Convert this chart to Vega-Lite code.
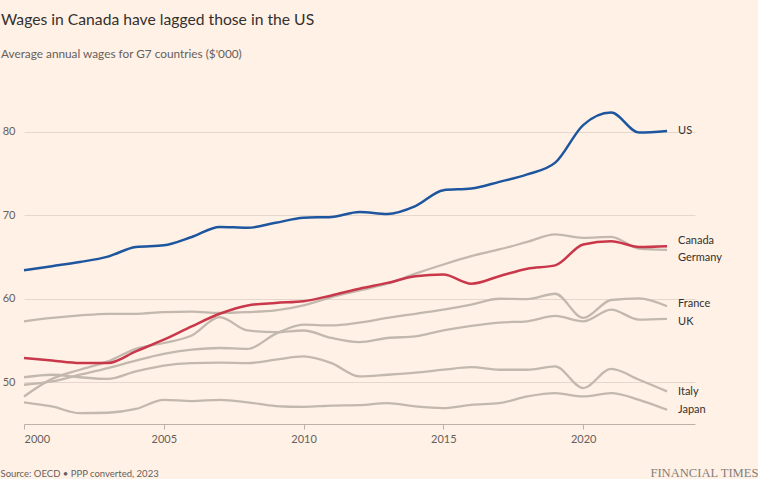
{
  "$schema": "https://vega.github.io/schema/vega-lite/v6.json",
  "width": 671,
  "height": 334,
  "autosize": {"type": "none"},
  "padding": {"left": 24, "top": 90, "right": 63, "bottom": 55},
  "background": "#fff1e5",
  "config": {"view": {"stroke": null}, "font": "Lato"},
  "title": {
    "text": "Wages in Canada have lagged those in the US",
    "subtitle": "Average annual wages for G7 countries ($'000)",
    "anchor": "start",
    "frame": "group",
    "dx": -23,
    "offset": 28,
    "font": "Lato",
    "fontSize": 15.7,
    "fontWeight": "normal",
    "color": "#33302e",
    "subtitleFont": "Lato",
    "subtitleFontSize": 11.8,
    "subtitleColor": "#66605c",
    "subtitlePadding": 21
  },
  "data": {"values": [
    {"country":"US","year":2000,"wage":63.4},{"country":"US","year":2001,"wage":63.9},{"country":"US","year":2002,"wage":64.4},{"country":"US","year":2003,"wage":65.05},{"country":"US","year":2004,"wage":66.2},{"country":"US","year":2005,"wage":66.4},{"country":"US","year":2006,"wage":67.4},{"country":"US","year":2007,"wage":68.6},{"country":"US","year":2008,"wage":68.5},{"country":"US","year":2009,"wage":69.1},{"country":"US","year":2010,"wage":69.7},{"country":"US","year":2011,"wage":69.8},{"country":"US","year":2012,"wage":70.4},{"country":"US","year":2013,"wage":70.15},{"country":"US","year":2014,"wage":71.1},{"country":"US","year":2015,"wage":73.0},{"country":"US","year":2016,"wage":73.2},{"country":"US","year":2017,"wage":74.0},{"country":"US","year":2018,"wage":74.9},{"country":"US","year":2019,"wage":76.3},{"country":"US","year":2020,"wage":80.8},{"country":"US","year":2021,"wage":82.3},{"country":"US","year":2022,"wage":79.9},{"country":"US","year":2023,"wage":80.1},
    {"country":"Canada","year":2000,"wage":52.9},{"country":"Canada","year":2001,"wage":52.6},{"country":"Canada","year":2002,"wage":52.3},{"country":"Canada","year":2003,"wage":52.3},{"country":"Canada","year":2004,"wage":53.7},{"country":"Canada","year":2005,"wage":55.1},{"country":"Canada","year":2006,"wage":56.7},{"country":"Canada","year":2007,"wage":58.2},{"country":"Canada","year":2008,"wage":59.2},{"country":"Canada","year":2009,"wage":59.5},{"country":"Canada","year":2010,"wage":59.7},{"country":"Canada","year":2011,"wage":60.4},{"country":"Canada","year":2012,"wage":61.2},{"country":"Canada","year":2013,"wage":61.9},{"country":"Canada","year":2014,"wage":62.7},{"country":"Canada","year":2015,"wage":62.9},{"country":"Canada","year":2016,"wage":61.8},{"country":"Canada","year":2017,"wage":62.7},{"country":"Canada","year":2018,"wage":63.6},{"country":"Canada","year":2019,"wage":64.0},{"country":"Canada","year":2020,"wage":66.5},{"country":"Canada","year":2021,"wage":66.9},{"country":"Canada","year":2022,"wage":66.2},{"country":"Canada","year":2023,"wage":66.3},
    {"country":"Germany","year":2000,"wage":57.3},{"country":"Germany","year":2001,"wage":57.7},{"country":"Germany","year":2002,"wage":58.0},{"country":"Germany","year":2003,"wage":58.2},{"country":"Germany","year":2004,"wage":58.2},{"country":"Germany","year":2005,"wage":58.4},{"country":"Germany","year":2006,"wage":58.45},{"country":"Germany","year":2007,"wage":58.3},{"country":"Germany","year":2008,"wage":58.4},{"country":"Germany","year":2009,"wage":58.6},{"country":"Germany","year":2010,"wage":59.2},{"country":"Germany","year":2011,"wage":60.2},{"country":"Germany","year":2012,"wage":61.0},{"country":"Germany","year":2013,"wage":61.8},{"country":"Germany","year":2014,"wage":63.0},{"country":"Germany","year":2015,"wage":64.1},{"country":"Germany","year":2016,"wage":65.1},{"country":"Germany","year":2017,"wage":65.9},{"country":"Germany","year":2018,"wage":66.8},{"country":"Germany","year":2019,"wage":67.7},{"country":"Germany","year":2020,"wage":67.3},{"country":"Germany","year":2021,"wage":67.4},{"country":"Germany","year":2022,"wage":66.0},{"country":"Germany","year":2023,"wage":65.85},
    {"country":"France","year":2000,"wage":49.7},{"country":"France","year":2001,"wage":50.1},{"country":"France","year":2002,"wage":50.9},{"country":"France","year":2003,"wage":51.7},{"country":"France","year":2004,"wage":52.6},{"country":"France","year":2005,"wage":53.4},{"country":"France","year":2006,"wage":53.9},{"country":"France","year":2007,"wage":54.1},{"country":"France","year":2008,"wage":54.0},{"country":"France","year":2009,"wage":55.8},{"country":"France","year":2010,"wage":56.9},{"country":"France","year":2011,"wage":56.8},{"country":"France","year":2012,"wage":57.15},{"country":"France","year":2013,"wage":57.7},{"country":"France","year":2014,"wage":58.2},{"country":"France","year":2015,"wage":58.7},{"country":"France","year":2016,"wage":59.3},{"country":"France","year":2017,"wage":60.0},{"country":"France","year":2018,"wage":59.95},{"country":"France","year":2019,"wage":60.6},{"country":"France","year":2020,"wage":57.7},{"country":"France","year":2021,"wage":59.85},{"country":"France","year":2022,"wage":60.05},{"country":"France","year":2023,"wage":59.1},
    {"country":"UK","year":2000,"wage":48.3},{"country":"UK","year":2001,"wage":50.4},{"country":"UK","year":2002,"wage":51.5},{"country":"UK","year":2003,"wage":52.5},{"country":"UK","year":2004,"wage":54.0},{"country":"UK","year":2005,"wage":54.7},{"country":"UK","year":2006,"wage":55.6},{"country":"UK","year":2007,"wage":57.8},{"country":"UK","year":2008,"wage":56.2},{"country":"UK","year":2009,"wage":56.0},{"country":"UK","year":2010,"wage":56.2},{"country":"UK","year":2011,"wage":55.3},{"country":"UK","year":2012,"wage":54.8},{"country":"UK","year":2013,"wage":55.3},{"country":"UK","year":2014,"wage":55.5},{"country":"UK","year":2015,"wage":56.2},{"country":"UK","year":2016,"wage":56.75},{"country":"UK","year":2017,"wage":57.15},{"country":"UK","year":2018,"wage":57.3},{"country":"UK","year":2019,"wage":57.95},{"country":"UK","year":2020,"wage":57.3},{"country":"UK","year":2021,"wage":58.7},{"country":"UK","year":2022,"wage":57.5},{"country":"UK","year":2023,"wage":57.6},
    {"country":"Italy","year":2000,"wage":50.6},{"country":"Italy","year":2001,"wage":50.9},{"country":"Italy","year":2002,"wage":50.6},{"country":"Italy","year":2003,"wage":50.4},{"country":"Italy","year":2004,"wage":51.3},{"country":"Italy","year":2005,"wage":52.0},{"country":"Italy","year":2006,"wage":52.3},{"country":"Italy","year":2007,"wage":52.35},{"country":"Italy","year":2008,"wage":52.3},{"country":"Italy","year":2009,"wage":52.7},{"country":"Italy","year":2010,"wage":53.1},{"country":"Italy","year":2011,"wage":52.3},{"country":"Italy","year":2012,"wage":50.7},{"country":"Italy","year":2013,"wage":50.9},{"country":"Italy","year":2014,"wage":51.15},{"country":"Italy","year":2015,"wage":51.5},{"country":"Italy","year":2016,"wage":51.8},{"country":"Italy","year":2017,"wage":51.5},{"country":"Italy","year":2018,"wage":51.5},{"country":"Italy","year":2019,"wage":51.9},{"country":"Italy","year":2020,"wage":49.3},{"country":"Italy","year":2021,"wage":51.6},{"country":"Italy","year":2022,"wage":50.3},{"country":"Italy","year":2023,"wage":48.9},
    {"country":"Japan","year":2000,"wage":47.6},{"country":"Japan","year":2001,"wage":47.1},{"country":"Japan","year":2002,"wage":46.3},{"country":"Japan","year":2003,"wage":46.35},{"country":"Japan","year":2004,"wage":46.8},{"country":"Japan","year":2005,"wage":47.9},{"country":"Japan","year":2006,"wage":47.75},{"country":"Japan","year":2007,"wage":47.9},{"country":"Japan","year":2008,"wage":47.6},{"country":"Japan","year":2009,"wage":47.15},{"country":"Japan","year":2010,"wage":47.05},{"country":"Japan","year":2011,"wage":47.2},{"country":"Japan","year":2012,"wage":47.25},{"country":"Japan","year":2013,"wage":47.5},{"country":"Japan","year":2014,"wage":47.1},{"country":"Japan","year":2015,"wage":46.9},{"country":"Japan","year":2016,"wage":47.3},{"country":"Japan","year":2017,"wage":47.5},{"country":"Japan","year":2018,"wage":48.3},{"country":"Japan","year":2019,"wage":48.7},{"country":"Japan","year":2020,"wage":48.3},{"country":"Japan","year":2021,"wage":48.7},{"country":"Japan","year":2022,"wage":47.9},{"country":"Japan","year":2023,"wage":46.7}
  ]},
  "resolve": {"axis": {"y": "independent"}},
  "layer": [
    {
      "transform": [{"filter": {"field": "country", "oneOf": ["Japan", "Italy", "UK", "France", "Germany"]}}],
      "mark": {"type": "line", "interpolate": "monotone", "strokeWidth": 2.3, "color": "#c3b8ae"},
      "encoding": {
        "x": {"field": "year", "type": "quantitative", "scale": {"domain": [2000, 2024], "nice": false, "zero": false},
          "axis": {"values": [2000, 2005, 2010, 2015, 2020], "format": "d", "grid": false, "domain": true, "domainColor": "#bcb1a8", "ticks": true, "tickColor": "#bcb1a8", "tickSize": 5, "labelPadding": 4, "labelFont": "Lato", "labelFontSize": 11, "labelColor": "#66605c",
            "title": "Source: OECD • PPP converted, 2023", "titleFont": "Lato", "titleFontSize": 9.5, "titleFontWeight": "normal", "titleColor": "#66605c", "titleAnchor": "start", "titleAlign": "left", "titleBaseline": "alphabetic", "titleX": -24, "titleY": 52}},
        "y": {"field": "wage", "type": "quantitative", "scale": {"domain": [45, 85], "nice": false, "zero": false},
          "axis": {"values": [50, 60, 70, 80], "grid": true, "gridColor": "#e4d8cd", "domain": false, "ticks": false, "labelPadding": 9, "labelFont": "Lato", "labelFontSize": 11, "labelColor": "#66605c", "title": null}},
        "detail": {"field": "country"}
      }
    },
    {
      "transform": [{"filter": {"field": "country", "equal": "Canada"}}],
      "mark": {"type": "line", "interpolate": "monotone", "strokeWidth": 2.5, "color": "#c9374a"},
      "encoding": {
        "x": {"field": "year", "type": "quantitative"},
        "y": {"field": "wage", "type": "quantitative", "axis": null}
      }
    },
    {
      "transform": [{"filter": {"field": "country", "equal": "US"}}],
      "mark": {"type": "line", "interpolate": "monotone", "strokeWidth": 2.5, "color": "#1d569e"},
      "encoding": {
        "x": {"field": "year", "type": "quantitative"},
        "y": {"field": "wage", "type": "quantitative", "axis": null}
      }
    },
    {
      "transform": [{"filter": {"field": "year", "equal": 2023}}, {"filter": {"field": "country", "oneOf": ["US", "Italy", "Japan"]}}],
      "mark": {"type": "text", "align": "left", "baseline": "middle", "dx": 11, "dy": 0.5, "font": "Lato", "fontSize": 11, "color": "#33302e"},
      "encoding": {
        "x": {"field": "year", "type": "quantitative"},
        "y": {"field": "wage", "type": "quantitative",
          "axis": {"orient": "right", "labels": false, "ticks": false, "domain": false, "grid": false,
            "title": "FINANCIAL TIMES", "titleAngle": 0, "titleFont": "Liberation Serif", "titleFontSize": 12.6, "titleFontWeight": "normal", "titleColor": "#857e79", "titleAlign": "right", "titleBaseline": "alphabetic", "titleX": 63, "titleY": 386}},
        "text": {"field": "country"}
      }
    },
    {
      "transform": [{"filter": {"field": "year", "equal": 2023}}, {"filter": {"field": "country", "equal": "Canada"}}],
      "mark": {"type": "text", "align": "left", "baseline": "middle", "dx": 11, "dy": -5, "font": "Lato", "fontSize": 11, "color": "#33302e"},
      "encoding": {
        "x": {"field": "year", "type": "quantitative"},
        "y": {"field": "wage", "type": "quantitative", "axis": null},
        "text": {"field": "country"}
      }
    },
    {
      "transform": [{"filter": {"field": "year", "equal": 2023}}, {"filter": {"field": "country", "equal": "Germany"}}],
      "mark": {"type": "text", "align": "left", "baseline": "middle", "dx": 11, "dy": 8, "font": "Lato", "fontSize": 11, "color": "#33302e"},
      "encoding": {
        "x": {"field": "year", "type": "quantitative"},
        "y": {"field": "wage", "type": "quantitative", "axis": null},
        "text": {"field": "country"}
      }
    },
    {
      "transform": [{"filter": {"field": "year", "equal": 2023}}, {"filter": {"field": "country", "equal": "France"}}],
      "mark": {"type": "text", "align": "left", "baseline": "middle", "dx": 11, "dy": -2, "font": "Lato", "fontSize": 11, "color": "#33302e"},
      "encoding": {
        "x": {"field": "year", "type": "quantitative"},
        "y": {"field": "wage", "type": "quantitative", "axis": null},
        "text": {"field": "country"}
      }
    },
    {
      "transform": [{"filter": {"field": "year", "equal": 2023}}, {"filter": {"field": "country", "equal": "UK"}}],
      "mark": {"type": "text", "align": "left", "baseline": "middle", "dx": 11, "dy": 3, "font": "Lato", "fontSize": 11, "color": "#33302e"},
      "encoding": {
        "x": {"field": "year", "type": "quantitative"},
        "y": {"field": "wage", "type": "quantitative", "axis": null},
        "text": {"field": "country"}
      }
    }
  ]
}
